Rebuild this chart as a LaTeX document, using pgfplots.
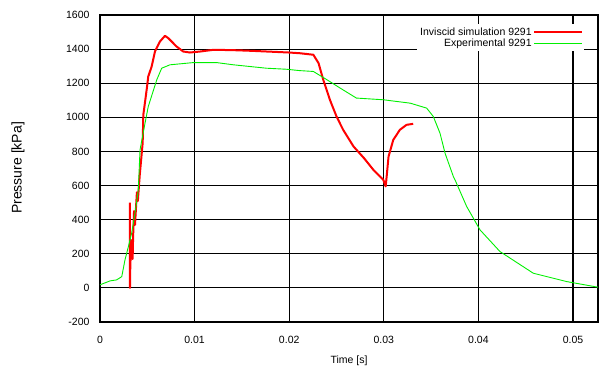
\documentclass[border=0pt]{standalone}
\usepackage{pgfplots}
\pgfplotsset{compat=1.18}
\usepackage{fontspec}
\setmainfont{Liberation Sans}
\definecolor{simred}{RGB}{255,0,0}
\definecolor{expgreen}{RGB}{0,240,0}
\definecolor{gridc}{RGB}{0,0,0}
\begin{document}
\begin{tikzpicture}
\path[use as bounding box] (-100pt,-43pt) rectangle (499pt,322pt);
\begin{axis}[
  at={(0,0)}, anchor=south west,
  scale only axis, width=498pt, height=307pt,
  xmin=0, xmax=0.05264, ymin=-200, ymax=1600,
  scaled x ticks=false, scaled y ticks=false,
  xtick={0,0.01,0.02,0.03,0.04,0.05},
  xticklabels={0,0.01,0.02,0.03,0.04,0.05},
  ytick={-200,0,200,400,600,800,1000,1200,1400,1600},
  yticklabels={-200,0,200,400,600,800,1000,1200,1400,1600},
  xmajorgrids, ymajorgrids,
  major grid style={gridc, line width=1.2pt},
  axis line style={gridc, line width=1.2pt},
  major tick length=0pt,
  tick label style={font=\fontsize{10.5}{12}\selectfont},
  /pgf/number format/assume math mode=true,
  xticklabel style={yshift=-11pt},
  yticklabel style={xshift=-7pt},
  xlabel={Time [s]},
  xlabel style={font=\fontsize{10.5}{12}\selectfont, at={(axis description cs:0.5,0)}, anchor=center, yshift=-39pt},
  ylabel={Pressure [kPa]},
  ylabel style={font=\fontsize{14}{16}\selectfont, at={(axis description cs:0,0.502)}, anchor=center, yshift=82pt},
  legend style={at={(axis description cs:0.972,0.97)}, anchor=north east, draw=none, fill=white,
    font=\fontsize{10.5}{12}\selectfont, row sep=-1.5pt, inner sep=1pt},
  legend cell align=right,
  legend plot pos=right,
  legend image code/.code={\draw[#1] plot coordinates {(0pt,0pt) (24pt,0pt) (48pt,0pt)};},
  legend image post style={line width=1.2pt},
]
\addplot[simred, line width=2pt, line join=round] coordinates {
(0.00317,500) (0.00317,0) (0.0032,120) (0.0033,280) (0.00345,170) (0.0035,300)
(0.0036,450) (0.0037,370) (0.0039,560) (0.0040,510) (0.0042,660)
(0.00451,849) (0.00458,1015) (0.00493,1161) (0.0051,1239) (0.00546,1298)
(0.00581,1386) (0.00634,1445) (0.00687,1478) (0.00722,1464) (0.0081,1415)
(0.0088,1386) (0.0095,1380) (0.0106,1386) (0.012,1396) (0.014,1394)
(0.016,1390) (0.018,1385) (0.020,1380) (0.0211,1376) (0.02255,1367)
(0.0231,1318) (0.0236,1220) (0.0243,1103) (0.0250,1005) (0.0257,927)
(0.0268,829) (0.0279,761) (0.0289,692) (0.02995,633) (0.0302,595)
(0.0305,770) (0.0310,868) (0.0317,927) (0.0324,956) (0.0331,962)
};
\addlegendentry{Inviscid simulation 9291}
\addplot[expgreen, line width=0.9pt] coordinates {
(0,18) (0.00106,41) (0.00176,47) (0.0023,66) (0.00264,164) (0.003,242)
(0.00335,322) (0.0037,438) (0.00405,575) (0.00423,809) (0.00476,966)
(0.0051,1063) (0.006,1220) (0.00652,1288) (0.0074,1308) (0.00986,1321)
(0.01233,1321) (0.0141,1308) (0.0176,1288) (0.0197,1282) (0.0211,1274)
(0.02255,1269) (0.024,1220) (0.0254,1171) (0.0271,1113) (0.02995,1103)
(0.0328,1083) (0.03453,1054) (0.03523,1005) (0.03594,907) (0.03647,790)
(0.03735,653) (0.03753,633) (0.03876,477) (0.04017,340) (0.04228,213)
(0.0458,86) (0.04933,37) (0.05264,4)
};
\addlegendentry{Experimental 9291}
\end{axis}
\end{tikzpicture}
\end{document}
